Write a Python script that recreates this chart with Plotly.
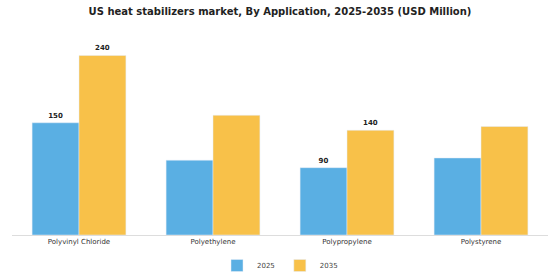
import plotly.graph_objects as go

categories = ["Polyvinyl Chloride", "Polyethylene", "Polypropylene", "Polystyrene"]
values_2025 = [150, 100, 90, 103]
values_2035 = [240, 160, 140, 145]
labels_2025 = ["150", "", "90", ""]
labels_2035 = ["240", "", "140", ""]

fig = go.Figure()
fig.add_trace(go.Bar(
    name="2025", x=categories, y=values_2025, text=labels_2025,
    textposition="outside", marker_color="#5AAFE3", cliponaxis=False,
    textfont=dict(size=7, color="#222", family="DejaVu Sans", weight="bold"),
))
fig.add_trace(go.Bar(
    name="2035", x=categories, y=values_2035, text=labels_2035,
    textposition="outside", marker_color="#F8C149", cliponaxis=False,
    textfont=dict(size=7, color="#222", family="DejaVu Sans", weight="bold"),
))

fig.update_layout(
    width=560, height=280,
    margin=dict(l=12, r=12, t=30, b=45, autoexpand=False),
    paper_bgcolor="white", plot_bgcolor="white",
    barmode="group", bargap=0.3, bargroupgap=0,
    title=dict(text="<b>US heat stabilizers market, By Application, 2025-2035 (USD Million)</b>",
               x=0.5, xanchor="center", y=0.97, yanchor="top",
               font=dict(size=10, family="DejaVu Sans", color="#222")),
    font=dict(family="DejaVu Sans", size=7, color="#333"),
    showlegend=True,
    legend=dict(orientation="h", x=0.5, xanchor="center", yref="container",
                y=0.0, yanchor="bottom",
                font=dict(size=7, color="#444")),
)
fig.update_xaxes(showline=True, linecolor="#ddd", linewidth=1, ticks="",
                 tickfont=dict(size=7, color="#333"))
fig.update_yaxes(visible=False, range=[0, 274], showgrid=False)

fig.write_html("out.html")
